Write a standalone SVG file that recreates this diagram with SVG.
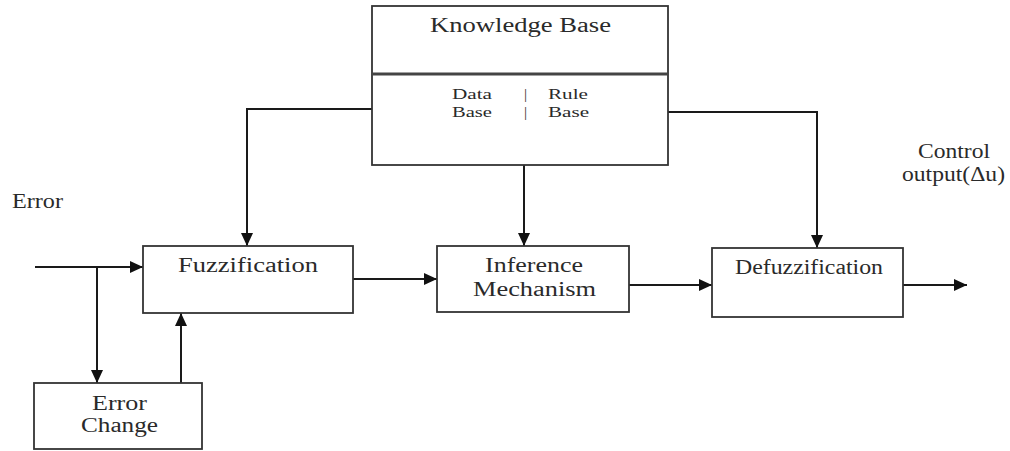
<svg xmlns="http://www.w3.org/2000/svg" width="1010" height="451" viewBox="0 0 1010 451">
  <style>
    .box { fill: #ffffff; stroke: #333333; stroke-width: 1.8; }
    .t { font-family: "Liberation Serif", "Times New Roman", serif; font-size: 20px; fill: #2a2a2a; }
    .s { font-family: "Liberation Serif", "Times New Roman", serif; font-size: 15.5px; fill: #2a2a2a; }
    .c { fill: none; stroke: #1a1a1a; stroke-width: 2; }
  </style>
  <defs>
    <marker id="arr" viewBox="0 0 13 12" refX="13" refY="6" markerWidth="13" markerHeight="12" markerUnits="userSpaceOnUse" orient="auto">
      <path d="M0,0 L13,6 L0,12 z" fill="#111111"/>
    </marker>
  </defs>
  <rect width="1010" height="451" fill="#ffffff"/>

  <g id="connectors">
    <polyline class="c" points="372,109 247,109 247,246" marker-end="url(#arr)"/>
    <polyline class="c" points="668,112 817,112 817,248" marker-end="url(#arr)" stroke="#555555"/>
    <line class="c" x1="524" y1="165" x2="524" y2="246" marker-end="url(#arr)"/>
    <line class="c" x1="35" y1="267" x2="143" y2="267" marker-end="url(#arr)"/>
    <line class="c" x1="97" y1="267" x2="97" y2="383" marker-end="url(#arr)"/>
    <line class="c" x1="181" y1="383" x2="181" y2="313" marker-end="url(#arr)"/>
    <line class="c" x1="353" y1="279" x2="437" y2="279" marker-end="url(#arr)"/>
    <line class="c" x1="629" y1="285" x2="712" y2="285" marker-end="url(#arr)"/>
    <line class="c" x1="903" y1="285" x2="967" y2="285" marker-end="url(#arr)"/>
  </g>

  <g id="knowledge-base">
    <rect class="box" x="372" y="6" width="296" height="159"/>
    <line x1="372" y1="74" x2="668" y2="74" stroke="#444444" stroke-width="3"/>
    <text class="t" x="430" y="32" textLength="181" lengthAdjust="spacingAndGlyphs">Knowledge Base</text>
    <text class="s" x="452" y="99" textLength="40" lengthAdjust="spacingAndGlyphs">Data</text>
    <text class="s" x="452" y="117" textLength="40" lengthAdjust="spacingAndGlyphs">Base</text>
    <text class="s" x="524" y="99">|</text>
    <text class="s" x="524" y="117">|</text>
    <text class="s" x="548" y="99" textLength="40" lengthAdjust="spacingAndGlyphs">Rule</text>
    <text class="s" x="548" y="117" textLength="41" lengthAdjust="spacingAndGlyphs">Base</text>
  </g>

  <g id="fuzzification">
    <rect class="box" x="143" y="246" width="210" height="67"/>
    <text class="t" x="178" y="272" textLength="140" lengthAdjust="spacingAndGlyphs">Fuzzification</text>
  </g>

  <g id="inference">
    <rect class="box" x="437" y="246" width="192" height="66"/>
    <text class="t" x="485" y="272" textLength="98" lengthAdjust="spacingAndGlyphs">Inference</text>
    <text class="t" x="473" y="296" textLength="123" lengthAdjust="spacingAndGlyphs">Mechanism</text>
  </g>

  <g id="defuzzification">
    <rect class="box" x="712" y="248" width="191" height="69"/>
    <text class="t" x="735" y="274" textLength="148" lengthAdjust="spacingAndGlyphs">Defuzzification</text>
  </g>

  <g id="error-change">
    <rect class="box" x="34" y="383" width="168" height="66"/>
    <text class="t" x="92" y="410" textLength="55" lengthAdjust="spacingAndGlyphs">Error</text>
    <text class="t" x="81" y="432" textLength="77" lengthAdjust="spacingAndGlyphs">Change</text>
  </g>

  <g id="labels">
    <text class="t" x="12" y="208" textLength="51" lengthAdjust="spacingAndGlyphs">Error</text>
    <text class="t" x="918" y="158" textLength="72" lengthAdjust="spacingAndGlyphs">Control</text>
    <text class="t" x="902" y="181" textLength="103" lengthAdjust="spacingAndGlyphs">output(Δu)</text>
  </g>
</svg>
